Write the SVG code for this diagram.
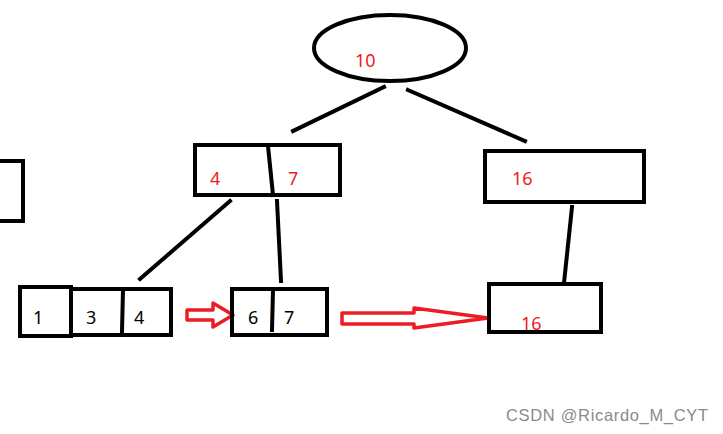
<svg xmlns="http://www.w3.org/2000/svg" width="723" height="434" viewBox="0 0 723 434">
<style>
.b{fill:none;stroke:#000;stroke-width:4}
.l{stroke:#000;stroke-width:4;fill:none;stroke-linecap:square}
.r{font-family:"Noto Sans","Liberation Sans",sans-serif;font-size:18px;fill:#ED1C24}
.k{font-family:"Noto Sans","Liberation Sans",sans-serif;font-size:18px;fill:#000}
.ar{fill:none;stroke:#ED1C24;stroke-width:3.5;stroke-linejoin:round}
</style>
<rect width="723" height="434" fill="#fff"/>
<g id="connectors">
<line class="l" x1="384" y1="87" x2="293" y2="131"/>
<line class="l" x1="408" y1="90" x2="525" y2="141"/>
<line class="l" x1="230" y1="201" x2="140" y2="279"/>
<line class="l" x1="277" y1="201" x2="281" y2="281"/>
<line class="l" x1="572" y1="207" x2="564" y2="283"/>
<path class="ar" d="M187 310 H213 V303 L233 315 L213 327 V320 H187 Z"/>
<path class="ar" d="M342 313 H414 V308 L488 318 L414 328 V324 H342 Z"/>
</g>
<g id="root"><ellipse class="b" cx="390" cy="48" rx="76" ry="33"/><text class="r" x="355" y="67">10</text></g>
<g id="n47"><rect class="b" x="195" y="145" width="145" height="50"/><line class="l" x1="268" y1="146" x2="273" y2="195"/><text class="r" x="210" y="185">4</text><text class="r" x="288" y="185">7</text></g>
<g id="n16"><rect class="b" x="485" y="151" width="159" height="51"/><text class="r" x="512" y="185">16</text></g>
<g id="partial"><path class="b" d="M0 161 H23 V221 H0"/></g>
<g id="leaf1"><rect class="b" x="20" y="287" width="51" height="49"/><text class="k" x="33" y="324">1</text></g>
<g id="leaf34"><path class="b" d="M71 289 H171 V335 H71"/><line class="l" x1="123" y1="290" x2="122" y2="331"/><text class="k" x="86" y="324">3</text><text class="k" x="134" y="324">4</text></g>
<g id="leaf67"><rect class="b" x="232" y="289" width="95" height="46"/><line class="l" x1="273" y1="290" x2="272" y2="330"/><text class="k" x="248" y="324">6</text><text class="k" x="284" y="324">7</text></g>
<g id="leaf16"><rect class="b" x="489" y="284" width="112" height="48"/><text class="r" x="521" y="330">16</text></g>
<text x="506" y="421" font-family="Liberation Sans,Arial,sans-serif" font-size="16.5" fill="#8a8a8a" textLength="202" lengthAdjust="spacing">CSDN @Ricardo_M_CYT</text>
</svg>
